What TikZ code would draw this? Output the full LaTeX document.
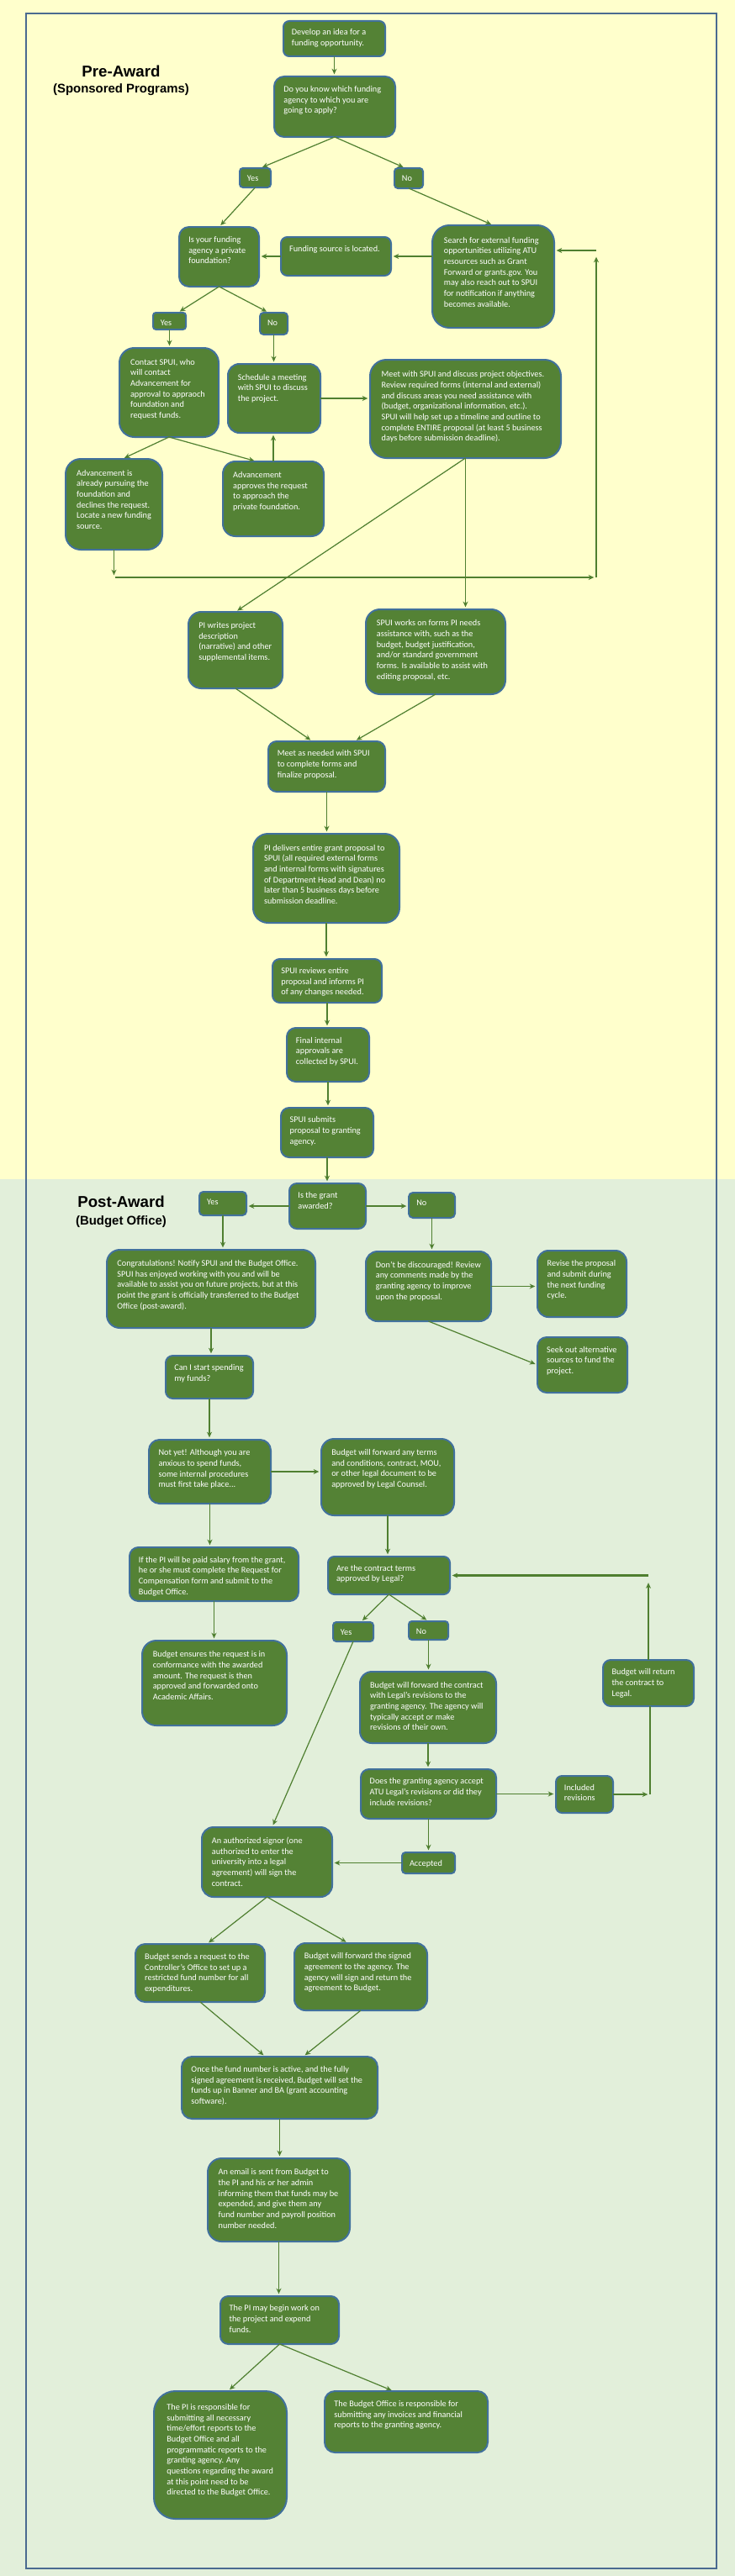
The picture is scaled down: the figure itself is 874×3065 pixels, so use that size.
\documentclass[tikz,border=0pt]{standalone}
\usepackage{fontspec}
\setmainfont{Carlito}
\newfontfamily\arialf{Liberation Sans}
\usetikzlibrary{arrows.meta,calc}
\definecolor{bgY}{HTML}{FFFFCC}
\definecolor{bgG}{HTML}{E2EFDA}
\definecolor{boxfill}{HTML}{548235}
\definecolor{boxborder}{HTML}{41719C}
\definecolor{arrowc}{HTML}{4F7F30}
\definecolor{framec}{HTML}{4A6A90}
\tikzset{
  gbox/.style={draw=boxborder, line width=1.5pt, fill=boxfill, inner sep=0pt, outer sep=0pt},
  gtext/.style={text=white, align=left, inner sep=0pt, anchor=north west, font=\fontsize{7.7}{9.5}\selectfont},
  arr/.style={draw=arrowc, line width=0.9pt, -{Stealth[length=5pt,width=4.5pt]}, shorten >=2pt},
  arrthick/.style={arr, line width=1.8pt},
  plainln/.style={draw=arrowc, line width=0.9pt},
  titletext/.style={font=\arialf\bfseries, inner sep=0pt, text=black},
}
\newcommand\gb[6]{%
  \pgfmathsetmacro\bwpx{(#4)-(#2)}%
  \pgfmathsetmacro\bhpx{(#5)-(#3)}%
  \pgfmathsetmacro\brpx{0.167*min(\bwpx,\bhpx)}%
  \pgfmathsetlengthmacro\bwl{\bwpx*0.75pt}%
  \pgfmathsetlengthmacro\bhl{\bhpx*0.75pt}%
  \pgfmathsetlengthmacro\brl{\brpx*0.75pt}%
  \pgfmathsetlengthmacro\bpl{(7.5+0.3*\brpx)*0.75pt}%
  \node[gbox, minimum width=\bwl, minimum height=\bhl, rounded corners=\brl, anchor=north west] (#1) at (#2,#3) {};
  \node[gtext] (#1-t) at ([xshift=\bpl,yshift=-\bpl]#1.north west) {#6};
}
\begin{document}
\begin{tikzpicture}[x=0.75pt,y=-0.75pt]
\useasboundingbox (0,0) rectangle (874,3065);
\fill[bgY] (0,0) rectangle (874,1403);
\fill[bgG] (0,1403) rectangle (874,3065);
\draw[framec, line width=1.5pt] (31,16) rectangle (852,3056);

\node[titletext] (pretitle) at (144,85) {\fontsize{14}{16}\selectfont Pre-Award};
\node[titletext] (presub) at (144,107) {\fontsize{11.2}{13}\selectfont (Sponsored Programs)};
\node[titletext] (posttitle) at (144,1430) {\fontsize{14}{16}\selectfont Post-Award};
\node[titletext] (postsub) at (144,1454) {\fontsize{11.2}{13}\selectfont (Budget Office)};

% ---------- Pre-award boxes
\gb{n1}{337}{25}{458}{67}{Develop an idea for a\\funding opportunity.}
\gb{n2}{326}{91}{470}{163}{Do you know which funding\\agency to which you are\\going to apply?}
\gb{yes1}{285}{200}{322}{223}{Yes}
\gb{no1}{469}{200}{503}{224}{No}
\gb{isfound}{213}{270}{308}{341}{Is your funding\\agency a private\\foundation?}
\gb{located}{334}{282}{465}{328}{Funding source is located.}
\gb{search}{514}{268}{659}{390}{Search for external funding\\opportunities utilizing ATU\\resources such as Grant\\Forward or grants.gov. You\\may also reach out to SPUI\\for notification if anything\\becomes available.}
\gb{yes2}{182}{372}{221}{392}{Yes}
\gb{no2}{309}{372}{342}{398}{No}
\gb{contact}{142}{414}{260}{520}{Contact SPUI, who\\will contact\\Advancement for\\approval to appraoch\\foundation and\\request funds.}
\gb{schedule}{271}{433}{381}{515}{Schedule a meeting\\with SPUI to discuss\\the project.}
\gb{meet}{440}{428}{667}{545}{Meet with SPUI and discuss project objectives.\\Review required forms (internal and external)\\and discuss areas you need assistance with\\(budget, organizational information, etc.).\\SPUI will help set up a timeline and outline to\\complete ENTIRE proposal (at least 5 business\\days before submission deadline).}
\gb{adv1}{78}{546}{193}{654}{Advancement is\\already pursuing the\\foundation and\\declines the request.\\Locate a new funding\\source.}
\gb{adv2}{265}{549}{385}{638}{Advancement\\approves the request\\to approach the\\private foundation.}
\gb{writes}{224}{728}{336}{819}{PI writes project\\description\\(narrative) and other\\supplemental items.}
\gb{spuiworks}{435}{725}{601}{826}{SPUI works on forms PI needs\\assistance with, such as the\\budget, budget justification,\\and/or standard government\\forms. Is available to assist with\\editing proposal, etc.}
\gb{meetneeded}{319}{882}{458}{942}{Meet as needed with SPUI\\to complete forms and\\finalize proposal.}
\gb{deliver}{301}{992}{475}{1098}{PI delivers entire grant proposal to\\SPUI (all required external forms\\and internal forms with signatures\\of Department Head and Dean) no\\later than 5 business days before\\submission deadline.}
\gb{reviews}{324}{1141}{454}{1193}{SPUI reviews entire\\proposal and informs PI\\of any changes needed.}
\gb{final}{341}{1223}{439}{1287}{Final internal\\approvals are\\collected by SPUI.}
\gb{submits}{334}{1318}{444}{1377}{SPUI submits\\proposal to granting\\agency.}

% ---------- Post-award boxes
\gb{awarded}{344}{1408}{435}{1462}{Is the grant\\awarded?}
\gb{yes3}{237}{1418}{293}{1446}{Yes}
\gb{no3}{486}{1419}{541}{1449}{No}
\gb{congrats}{127}{1487}{375}{1580}{Congratulations! Notify SPUI and the Budget Office.\\SPUI has enjoyed working with you and will be\\available to assist you on future projects, but at this\\point the grant is officially transferred to the Budget\\Office (post-award).}
\gb{discouraged}{435}{1489}{584}{1572}{Don't be discouraged! Review\\any comments made by the\\granting agency to improve\\upon the proposal.}
\gb{revise}{639}{1488}{745}{1567}{Revise the proposal\\and submit during\\the next funding\\cycle.}
\gb{seek}{639}{1591}{746}{1657}{Seek out alternative\\sources to fund the\\project.}
\gb{canI}{197}{1613}{301}{1664}{Can I start spending\\my funds?}
\gb{notyet}{177}{1713}{322}{1789}{Not yet! Although you are\\anxious to spend funds,\\some internal procedures\\must first take place...}
\gb{bforward}{382}{1712}{540}{1803}{Budget will forward any terms\\and conditions, contract, MOU,\\or other legal document to be\\approved by Legal Counsel.}
\gb{ifpi}{154}{1841}{355}{1905}{If the PI will be paid salary from the grant,\\he or she must complete the Request for\\Compensation form and submit to the\\Budget Office.}
\gb{ensures}{169}{1952}{341}{2053}{Budget ensures the request is in\\conformance with the awarded\\amount. The request is then\\approved and forwarded onto\\Academic Affairs.}
\gb{terms}{390}{1852}{535}{1897}{Are the contract terms\\approved by Legal?}
\gb{yes4}{396}{1930}{444}{1953}{Yes}
\gb{no4}{486}{1929}{533}{1951}{No}
\gb{bfwd2}{428}{1989}{590}{2074}{Budget will forward the contract\\with Legal's revisions to the\\granting agency. The agency will\\typically accept or make\\revisions of their own.}
\gb{returns}{717}{1975}{825}{2030}{Budget will return\\the contract to\\Legal.}
\gb{does}{429}{2105}{590}{2164}{Does the granting agency accept\\ATU Legal's revisions or did they\\include revisions?}
\gb{included}{661}{2113}{729}{2157}{Included\\revisions}
\gb{accepted}{478}{2204}{541}{2229}{Accepted}
\gb{signor}{240}{2174}{395}{2257}{An authorized signor (one\\authorized to enter the\\university into a legal\\agreement) will sign the\\contract.}
\gb{sends}{161}{2313}{315}{2382}{Budget sends a request to the\\Controller's Office to set up a\\restricted fund number for all\\expenditures.}
\gb{bfwdsigned}{350}{2312}{508}{2392}{Budget will forward the signed\\agreement to the agency. The\\agency will sign and return the\\agreement to Budget.}
\gb{once}{216}{2447}{449}{2521}{Once the fund number is active, and the fully\\signed agreement is received, Budget will set the\\funds up in Banner and BA (grant accounting\\software).}
\gb{email}{247}{2568}{416}{2667}{An email is sent from Budget to\\the PI and his or her admin\\informing them that funds may be\\expended, and give them any\\fund number and payroll position\\number needed.}
\gb{maybegin}{262}{2732}{403}{2789}{The PI may begin work on\\the project and expend\\funds.}
\gb{piresp}{183}{2845}{341}{2997}{The PI is responsible for\\submitting all necessary\\time/effort reports to the\\Budget Office and all\\programmatic reports to the\\granting agency. Any\\questions regarding the award\\at this point need to be\\directed to the Budget Office.}
\gb{boresp}{386}{2845}{580}{2918}{The Budget Office is responsible for\\submitting any invoices and financial\\reports to the granting agency.}

% ---------- Pre-award connectors
\draw[arr] (n1.south) -- (n1.south |- n2.north);
\draw[arr] (n2.south) -- ($(yes1.north)+(6,0)$);
\draw[arr] (n2.south) -- ($(no1.north)-(4,0)$);
\draw[arr] (yes1.south) -- (isfound.north);
\draw[arr] (no1.south) -- (search.north);
\draw[arr] (search.west |- located.east) -- (located.east);
\draw[arr] (located.west) -- (isfound.east |- located.west);
\draw[arr] (isfound.south) -- ($(yes2.north)+(10,0)$);
\draw[arr] (isfound.south) -- ($(no2.north)-(6,0)$);
\draw[arr] (yes2.south) -- (yes2.south |- contact.north);
\draw[arr] (no2.south) -- (no2.south |- schedule.north);
\draw[arr] (schedule.east) -- (meet.west |- schedule.east);
\draw[arr] (contact.south) -- ($(adv1.north)+(10,0)$);
\draw[arr] (contact.south) -- ($(adv2.north)-(20,0)$);
\draw[arr] (adv2.north) -- (adv2.north |- schedule.south);
\draw[arr] (meet.south) -- (writes.north);
\draw[arr] (meet.south) -- (meet.south |- spuiworks.north);
\coordinate (loopL) at (137,687);
\coordinate (loopR) at (709,687);
\coordinate (loopT) at (709,298);
\draw[arr] (adv1.south) -- (adv1.south |- loopL);
\draw[arr] (loopL) -- (loopR);
\draw[arr] (loopR) -- ($(loopT)+(0,5)$);
\draw[arr] (loopT) -- (search.east |- loopT);
\draw[arr] (writes.south) -- ($(meetneeded.north)-(17,0)$);
\draw[arr] (spuiworks.south) -- ($(meetneeded.north)+(33,0)$);
\draw[arr] (meetneeded.south) -- (meetneeded.south |- deliver.north);
\draw[arr] (deliver.south) -- (deliver.south |- reviews.north);
\draw[arr] (reviews.south) -- (reviews.south |- final.north);
\draw[arr] (final.south) -- (final.south |- submits.north);
\draw[arr] (submits.south) -- (submits.south |- awarded.north);

% ---------- Post-award connectors
\draw[arr] (awarded.west) -- (yes3.east |- awarded.west);
\draw[arrthick] (awarded.east) -- (no3.west |- awarded.east);
\draw[arr] (yes3.south) -- (yes3.south |- congrats.north);
\draw[arr] (no3.south) -- (no3.south |- discouraged.north);
\draw[arr] (discouraged.east) -- (revise.west |- discouraged.east);
\draw[arr] (discouraged.south) -- (seek.west);
\draw[arr] (congrats.south) -- (congrats.south |- canI.north);
\draw[arr] (canI.south) -- (canI.south |- notyet.north);
\draw[arr] (notyet.east) -- (bforward.west |- notyet.east);
\draw[arr] (notyet.south) -- (notyet.south |- ifpi.north);
\draw[arr] (bforward.south) -- (bforward.south |- terms.north);
\draw[arr] (ifpi.south) -- (ifpi.south |- ensures.north);
\draw[arr] (terms.south) -- ($(yes4.north)+(9,0)$);
\draw[arr] (terms.south) -- (no4.north);
\draw[arr] (no4.south) -- (no4.south |- bfwd2.north);
\draw[arr] (yes4.south) -- ($(signor.north)+(6,0)$);
\draw[arr] (bfwd2.south) -- (bfwd2.south |- does.north);
\draw[arr] (does.east) -- (included.west |- does.east);
\coordinate (rj) at (773,2135);
\draw[arrthick] (included.east |- rj) -- (rj);
\draw[plainln] (rj) -- (rj |- returns.south);
\draw[arr] (returns.north) -- ($(returns.north |- terms.east)+(0,6)$);
\draw[arrthick] (returns.north |- terms.east) -- (terms.east);
\draw[arr] (does.south) -- (does.south |- accepted.north);
\draw[arr] (accepted.west) -- (signor.east |- accepted.west);
\draw[arr] (signor.south) -- ($(sends.north)+(8,0)$);
\draw[arr] (signor.south) -- ($(bfwdsigned.north)-(15,0)$);
\draw[arr] (sends.south) -- ($(once.north)-(17,0)$);
\draw[arr] (bfwdsigned.south) -- ($(once.north)+(28,0)$);
\draw[arr] (once.south) -- (once.south |- email.north);
\draw[arr] (email.south) -- (email.south |- maybegin.north);
\draw[arr] (maybegin.south) -- ($(piresp.north)+(9,0)$);
\draw[arr] (maybegin.south) -- ($(boresp.north)-(15,0)$);
\end{tikzpicture}
\end{document}
